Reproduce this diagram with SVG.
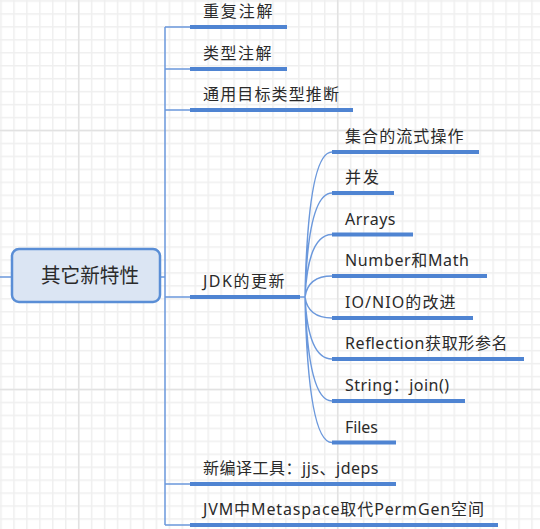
<svg xmlns="http://www.w3.org/2000/svg" width="540" height="529" viewBox="0 0 540 529">
<style>
.t{font-family:"Noto Sans","Noto Sans CJK SC",sans-serif;font-size:16px;fill:#2a2a2a}
.r{font-family:"Noto Sans","Noto Sans CJK SC",sans-serif;font-size:20px;fill:#2a2a2a}
.thin{fill:none;stroke:#6b98dc;stroke-width:1.5}
.ul{fill:none;stroke:#4f84d2;stroke-width:4}
</style>
<defs>
<pattern id="g" width="12.95" height="12.95" patternUnits="userSpaceOnUse" x="0.25" y="0.25">
<path d="M0 0.75H12.95M0.75 0V12.95" stroke="#efefef" stroke-width="1.5"/>
</pattern>
</defs>
<rect width="540" height="529" fill="#fff"/>
<rect width="540" height="529" fill="url(#g)"/>
<path d="M78.7 0V529M337.7 0V529M0 130.5H540M0 389.5H540" stroke="#e2e2e2" stroke-width="1.5"/>

<g id="connectors">
<path class="thin" d="M0 277H12M160 277H165M165 27V525M165 27H190M165 69H190M165 110H190M165 297H190M165 484H190M165 525H190M300 297H305"/>
<path class="thin" d="M305 297Q308 152 332 152M305 297Q308 193 332 193M305 297Q308 234.5 332 234.5M305 297Q308 276 332 276M305 297Q308 318 332 318M305 297Q308 359 332 359M305 297Q308 401 332 401M305 297Q308 442.5 332 442.5"/>
</g>

<g id="root">
<rect x="12" y="249" width="148" height="53" rx="7" fill="#dbe5f3" stroke="#5a8ed6" stroke-width="2.5"/>
<text class="r" x="90" y="283" text-anchor="middle" textLength="98" lengthAdjust="spacingAndGlyphs">其它新特性</text>
</g>

<g id="n1"><path class="ul" d="M190 27H287"/><text class="t" x="203" y="17" textLength="69.5">重复注解</text></g>
<g id="n2"><path class="ul" d="M190 69H287"/><text class="t" x="203" y="59" textLength="68.5">类型注解</text></g>
<g id="n3"><path class="ul" d="M190 110H353"/><text class="t" x="203" y="100" textLength="136">通用目标类型推断</text></g>
<g id="n4"><path class="ul" d="M190 297H300"/><text class="t" x="203" y="287" textLength="81.5">JDK的更新</text></g>
<g id="n5"><path class="ul" d="M190 484H396"/><text class="t" x="203" y="474" textLength="175.5">新编译工具：jjs、jdeps</text></g>
<g id="n6"><path class="ul" d="M190 525H498"/><text class="t" x="203" y="515" textLength="281">JVM中Metaspace取代PermGen空间</text></g>

<g id="c1"><path class="ul" d="M332 152H479"/><text class="t" x="345" y="142" textLength="118.5">集合的流式操作</text></g>
<g id="c2"><path class="ul" d="M332 193H394"/><text class="t" x="345" y="183" textLength="34">并发</text></g>
<g id="c3"><path class="ul" d="M332 234.5H413"/><text class="t" x="345" y="224.5" textLength="50.5">Arrays</text></g>
<g id="c4"><path class="ul" d="M332 276H487"/><text class="t" x="345" y="266" textLength="124">Number和Math</text></g>
<g id="c5"><path class="ul" d="M332 318H473"/><text class="t" x="345" y="308" textLength="110.5">IO/NIO的改进</text></g>
<g id="c6"><path class="ul" d="M332 359H524"/><text class="t" x="345" y="349" textLength="162.5">Reflection获取形参名</text></g>
<g id="c7"><path class="ul" d="M332 401H465"/><text class="t" x="345" y="391" textLength="104">String：join()</text></g>
<g id="c8"><path class="ul" d="M332 442.5H396"/><text class="t" x="345" y="432.5" textLength="33">Files</text></g>
</svg>
